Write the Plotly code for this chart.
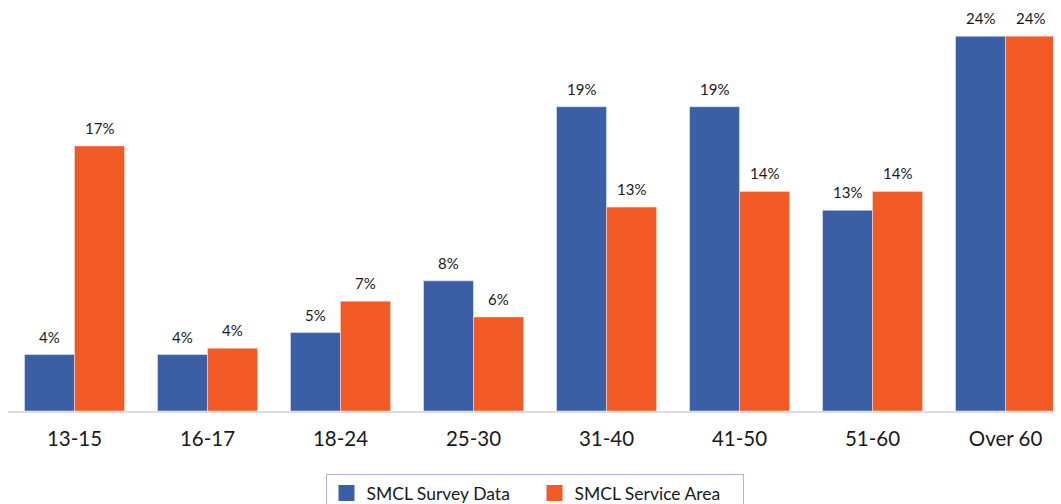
import plotly.graph_objects as go

categories = ["13-15", "16-17", "18-24", "25-30", "31-40", "41-50", "51-60", "Over 60"]
survey_values = [3.6, 3.6, 5.0, 8.3, 19.4, 19.4, 12.8, 23.9]
service_values = [16.9, 4.0, 7.0, 6.0, 13.0, 14.0, 14.0, 23.9]
survey_labels = ["4%", "4%", "5%", "8%", "19%", "19%", "13%", "24%"]
service_labels = ["17%", "4%", "7%", "6%", "13%", "14%", "14%", "24%"]
series_names = ["SMCL Survey Data", "SMCL Service Area"]

BLUE = "#3A5FA4"
ORANGE = "#F15A24"
FONT = "Lato, 'Open Sans', sans-serif"

fig = go.Figure()
fig.add_trace(go.Bar(name=series_names[0], x=categories, y=survey_values, showlegend=False,
                     marker=dict(color=BLUE, line=dict(color="#E6E9F2", width=0.6))))
fig.add_trace(go.Bar(name=series_names[1], x=categories, y=service_values, showlegend=False,
                     marker=dict(color=ORANGE, line=dict(color="#F8D8CC", width=0.6))))
# legend-only entries with large square swatches
for name, col in zip(series_names, [BLUE, ORANGE]):
    fig.add_trace(go.Scatter(name=name, x=[None], y=[None], mode="markers",
                             marker=dict(symbol="square", size=20, color=col), showlegend=True))

annotations = []
for cat, v, lab in zip(categories, survey_values, survey_labels):
    annotations.append(dict(x=cat, y=v, text=lab, showarrow=False, xshift=-25, yshift=7,
                            yanchor="bottom", font=dict(size=15, color="#1a1a1a", family=FONT)))
for cat, v, lab in zip(categories, service_values, service_labels):
    annotations.append(dict(x=cat, y=v, text=lab, showarrow=False, xshift=25, yshift=7,
                            yanchor="bottom", font=dict(size=15, color="#1a1a1a", family=FONT)))

fig.update_layout(
    width=1061, height=504,
    margin=dict(l=0, r=8, t=20, b=100),
    plot_bgcolor="white", paper_bgcolor="white",
    barmode="group", bargap=0.248, bargroupgap=0,
    font=dict(family=FONT, color="#1a1a1a"),
    annotations=annotations,
    showlegend=True,
    legend=dict(orientation="h", x=0.5, xanchor="center", y=-0.166, yanchor="top",
                bordercolor="#A9B4D6", borderwidth=1, font=dict(size=17.5, family=FONT),
                entrywidth=163, itemsizing="trace"),
    xaxis=dict(range=[-0.5, 7.417], showline=True, linecolor="#DADCEA", linewidth=1.5,
               ticks="", tickfont=dict(size=20.5, family=FONT, color="#1a1a1a"),
               ticklabelstandoff=9, showgrid=False, fixedrange=True),
    yaxis=dict(range=[0, 24.42], visible=False, showgrid=False, zeroline=False),
)

fig.write_html("out.html")
